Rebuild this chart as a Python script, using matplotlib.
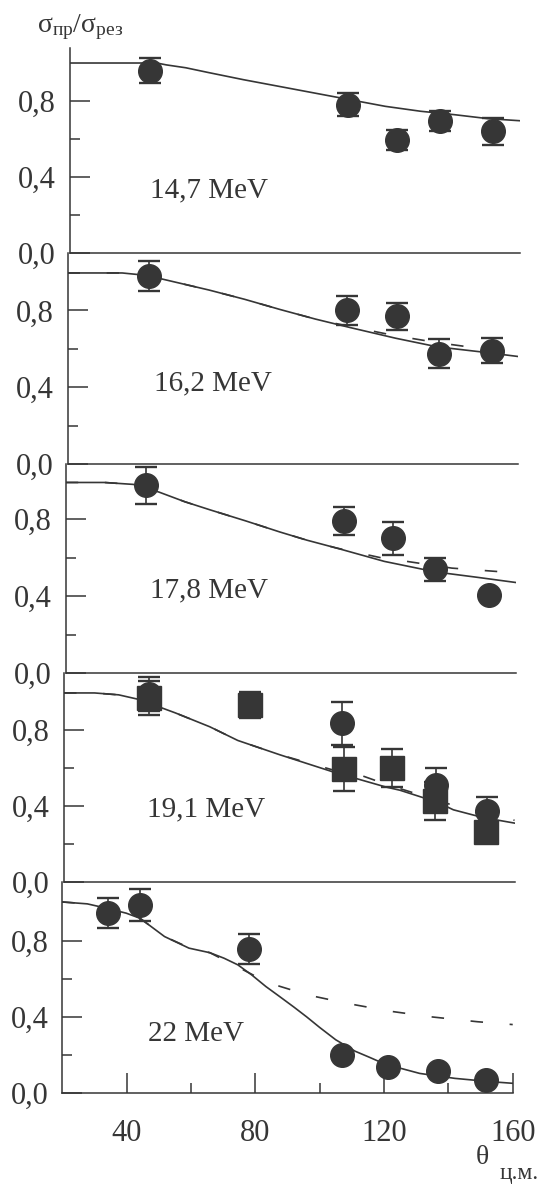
import matplotlib
matplotlib.use("Agg")
import matplotlib.pyplot as plt
from matplotlib.ticker import FixedLocator, FixedFormatter

plt.rcParams['font.family'] = ['Liberation Serif', 'DejaVu Serif']
plt.rcParams['mathtext.fontset'] = 'custom'
plt.rcParams['mathtext.rm'] = 'Liberation Serif'
plt.rcParams['mathtext.it'] = 'Liberation Serif:italic'

INK = '#363636'

# ---------------- data ----------------
energy_labels = ['14,7 MeV', '16,2 MeV', '17,8 MeV', '19,1 MeV', '22 MeV']
y_tick_values = [0.0, 0.4, 0.8]
y_tick_labels = ['0,0', '0,4', '0,8']
y_minor_values = [0.2, 0.6]
x_tick_values = [40, 80, 120, 160]
x_tick_labels = ['40', '80', '120', '160']
x_minor_values = [60, 100, 140]

# 14,7 MeV
p1_theta = [45.0, 106.3, 121.6, 135.1, 151.4]
p1_val = [0.96, 0.78, 0.595, 0.695, 0.64]
p1_err = [0.065, 0.06, 0.055, 0.055, 0.07]
p1_curve_theta = [20, 47, 50, 56, 63, 74, 85, 96, 107, 118, 129, 139.5, 150, 160]
p1_curve_val = [1.0, 1.0, 0.99, 0.975, 0.95, 0.912, 0.877, 0.842, 0.807, 0.772, 0.746, 0.728, 0.707, 0.696]

# 16,2 MeV
p2_theta = [45.4, 106.7, 122.4, 135.4, 152.0]
p2_val = [0.98, 0.80, 0.77, 0.575, 0.59]
p2_err = [0.077, 0.075, 0.07, 0.075, 0.065]
p2_curve_theta = [20, 37, 43, 49, 64, 75, 86, 97, 108, 122, 135, 149, 160]
p2_curve_val = [0.995, 0.995, 0.985, 0.965, 0.906, 0.858, 0.805, 0.755, 0.71, 0.655, 0.61, 0.583, 0.56]
p2_dash_theta = [20, 37, 43, 49, 64, 75, 86, 97, 108, 122, 135, 149, 160]
p2_dash_val = [0.995, 0.995, 0.985, 0.965, 0.906, 0.858, 0.805, 0.755, 0.715, 0.668, 0.632, 0.60, 0.58]

# 17,8 MeV
p3_theta = [44.8, 106.4, 121.7, 134.8, 151.4]
p3_val = [0.975, 0.79, 0.70, 0.54, 0.405]
p3_err = [0.095, 0.074, 0.085, 0.06, 0.0]
p3_curve_theta = [20, 32, 41, 49, 57, 65, 76, 86.5, 95, 104, 119, 135, 148, 160]
p3_curve_val = [0.99, 0.99, 0.98, 0.94, 0.89, 0.847, 0.79, 0.733, 0.69, 0.65, 0.58, 0.525, 0.497, 0.47]
p3_dash_theta = [20, 32, 41, 49, 57, 65, 76, 86.5, 95, 104, 119, 126, 140, 152, 160]
p3_dash_val = [0.99, 0.99, 0.98, 0.94, 0.89, 0.847, 0.79, 0.733, 0.69, 0.65, 0.595, 0.58, 0.545, 0.53, 0.52]

# 19,1 MeV (circles and squares)
p4c_theta = [46.4, 106.5, 135.6, 151.5]
p4c_val = [0.99, 0.835, 0.51, 0.375]
p4c_err = [0.09, 0.112, 0.09, 0.07]
p4s_theta = [46.4, 77.7, 107.1, 122.0, 135.4, 151.0]
p4s_val = [0.97, 0.93, 0.596, 0.60, 0.428, 0.265]
p4s_err = [0.09, 0.068, 0.116, 0.10, 0.10, 0.0]
p4_curve_theta = [20, 29.5, 37, 43.5, 49, 54.6, 65.3, 74, 87, 103.5, 120, 124.4, 136, 141, 150, 160]
p4_curve_val = [0.995, 0.995, 0.985, 0.96, 0.925, 0.89, 0.817, 0.745, 0.67, 0.58, 0.50, 0.483, 0.42, 0.38, 0.34, 0.31]
p4_dash_theta = [20, 29.5, 37, 43.5, 49, 54.6, 65.3, 74, 87, 103.5, 112, 120, 136, 150, 160]
p4_dash_val = [0.995, 0.995, 0.985, 0.96, 0.925, 0.89, 0.817, 0.745, 0.67, 0.59, 0.563, 0.515, 0.43, 0.355, 0.325]

# 22 MeV
p5_theta = [34.3, 44.1, 77.9, 107.0, 121.3, 136.7, 151.7]
p5_val = [0.947, 0.99, 0.758, 0.20, 0.135, 0.116, 0.068]
p5_err = [0.08, 0.085, 0.077, 0.0, 0.0, 0.0, 0.0]
p5_curve_theta = [20, 27.8, 33, 39.9, 44.2, 51.8, 59.4, 65.9, 70.3, 74.6, 78.9, 83.3, 87.6, 92.0, 96.0, 100.0, 105.0, 111.0, 115.6, 120.3, 131.1, 142, 152.8, 160]
p5_curve_val = [1.005, 0.995, 0.975, 0.946, 0.919, 0.823, 0.762, 0.738, 0.709, 0.674, 0.621, 0.56, 0.507, 0.452, 0.40, 0.345, 0.28, 0.22, 0.187, 0.152, 0.103, 0.077, 0.06, 0.051]
p5_dash_theta = [20, 27.8, 33, 39.9, 44.2, 51.8, 59.4, 65.9, 72, 84, 96.5, 109, 122, 135, 149, 160]
p5_dash_val = [1.005, 0.995, 0.975, 0.946, 0.919, 0.823, 0.765, 0.738, 0.685, 0.58, 0.515, 0.47, 0.43, 0.40, 0.375, 0.36]

# ---------------- layout ----------------
W, H = 548, 1186
fig = plt.figure(figsize=(W / 100, H / 100), dpi=100)
fig.patch.set_facecolor('white')

PX_PER_DEG = 3.218
AX_W = 140 * PX_PER_DEG
# (left px, top px, bottom px, ymax)
layout = [(69.9, 48, 253, 1.079), (67.5, 253, 464, 1.099), (65.7, 464, 673, 1.086),
          (64.0, 673, 882, 1.10), (62.2, 882, 1093, 1.11)]
label_pos = [(45.0, 0.33), (46.8, 0.42), (46.3, 0.43), (45.7, 0.38), (46.8, 0.31)]

FS = 22
MS = 17
CAP = 7.6

def draw_points(ax, th, val, err, marker):
    th_e = [t for t, e in zip(th, err) if e > 0]
    v_e = [v for v, e in zip(val, err) if e > 0]
    e_e = [e for e in err if e > 0]
    if th_e:
        ax.errorbar(th_e, v_e, yerr=e_e, fmt='none', ecolor=INK, elinewidth=1.2,
                    capsize=CAP, capthick=1.7, zorder=3, clip_on=False)
    ax.plot(th, val, linestyle='none', marker=marker, ms=MS, color=INK,
            mec=INK, zorder=4, clip_on=False)

axes = []
for i, (left, top, bot, ymax) in enumerate(layout):
    ax = fig.add_axes([left / W, 1 - bot / H, AX_W / W, (bot - top) / H])
    ax.patch.set_alpha(0)
    ax.set_xlim(20, 160)
    ax.set_ylim(0, ymax)
    for s in ['top', 'right']:
        ax.spines[s].set_visible(False)
    for s in ['left', 'bottom']:
        ax.spines[s].set_linewidth(1.1)
        ax.spines[s].set_color(INK)
    ax.yaxis.set_major_locator(FixedLocator(y_tick_values))
    ax.yaxis.set_major_formatter(FixedFormatter(y_tick_labels))
    ax.yaxis.set_minor_locator(FixedLocator(y_minor_values))
    ax.tick_params(axis='y', which='major', direction='in', length=14.4, width=1.1,
                   pad=10, labelsize=FS, colors=INK)
    ax.tick_params(axis='y', which='minor', direction='in', length=7.5, width=1.1, colors=INK)
    if i < 4:
        ax.tick_params(axis='x', which='both', bottom=False, labelbottom=False)
    else:
        ax.xaxis.set_major_locator(FixedLocator(x_tick_values))
        ax.xaxis.set_major_formatter(FixedFormatter(x_tick_labels))
        ax.xaxis.set_minor_locator(FixedLocator(x_minor_values))
        ax.tick_params(axis='x', which='major', direction='in', length=14.4, width=1.1,
                       pad=19, labelsize=FS, colors=INK)
        ax.tick_params(axis='x', which='minor', direction='in', length=7.5, width=1.1, colors=INK)
    ax.text(label_pos[i][0], label_pos[i][1], energy_labels[i], ha='left', va='center',
            fontsize=21, color=INK)
    axes.append(ax)

LW = 1.2
DASH = (0, (7.5, 16))

a = axes[0]
a.plot(p1_curve_theta, p1_curve_val, color=INK, lw=LW, zorder=2)
draw_points(a, p1_theta, p1_val, p1_err, 'o')

a = axes[1]
a.plot(p2_dash_theta, p2_dash_val, color=INK, lw=LW, linestyle=DASH, zorder=2)
a.plot(p2_curve_theta, p2_curve_val, color=INK, lw=LW, zorder=2)
draw_points(a, p2_theta, p2_val, p2_err, 'o')

a = axes[2]
a.plot(p3_dash_theta, p3_dash_val, color=INK, lw=LW, linestyle=DASH, zorder=2)
a.plot(p3_curve_theta, p3_curve_val, color=INK, lw=LW, zorder=2)
draw_points(a, p3_theta, p3_val, p3_err, 'o')

a = axes[3]
a.plot(p4_dash_theta, p4_dash_val, color=INK, lw=LW, linestyle=DASH, zorder=2)
a.plot(p4_curve_theta, p4_curve_val, color=INK, lw=LW, zorder=2)
draw_points(a, p4c_theta, p4c_val, p4c_err, 'o')
draw_points(a, p4s_theta, p4s_val, p4s_err, 's')

a = axes[4]
a.plot(p5_dash_theta, p5_dash_val, color=INK, lw=LW, linestyle=DASH, zorder=2)
a.plot(p5_curve_theta, p5_curve_val, color=INK, lw=LW, zorder=2)
draw_points(a, p5_theta, p5_val, p5_err, 'o')

# axis titles
fig.text(36.7 / W, 1 - 32 / H, r'$\mathrm{σ}_{\mathrm{пр}}/\mathrm{σ}_{\mathrm{рез}}$',
         ha='left', va='baseline', fontsize=20, color=INK)
fig.text(482 / W, 1 - 1158 / H, 'θ', ha='center', va='center', fontsize=20, color=INK)
fig.text(519 / W, 1 - 1174 / H, 'ц.м.', ha='center', va='center', fontsize=17, color=INK)

fig.savefig('out.png', dpi=100, facecolor='white')
